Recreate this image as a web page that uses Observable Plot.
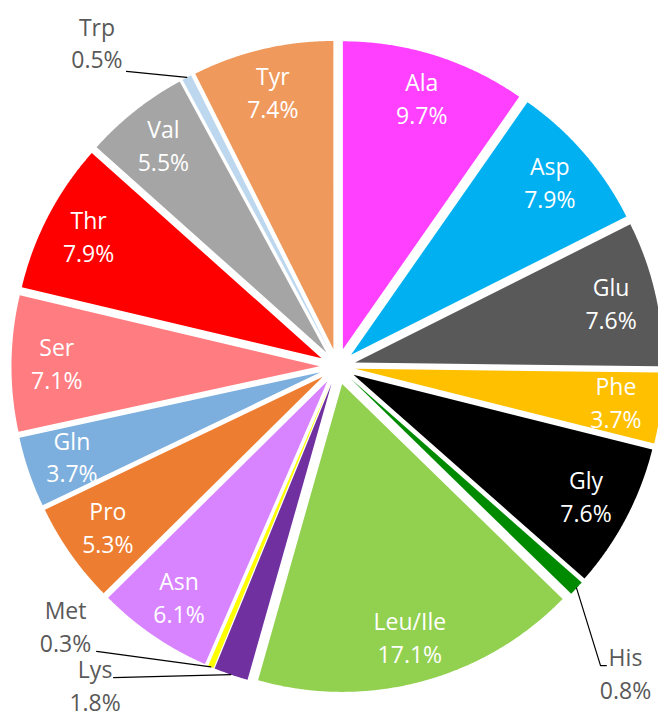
<!DOCTYPE html>
<html><head><meta charset="utf-8">
<script src="https://cdn.jsdelivr.net/npm/d3@7"></script>
<script src="https://cdn.jsdelivr.net/npm/@observablehq/plot@0.6"></script>
<style>html,body{margin:0;padding:0;background:#fff;} #chart{width:658px;height:716px;overflow:hidden}</style>
</head><body><div id="chart"></div>
<script>
// ---- data (clockwise from 12 o'clock) ----
const names  = ["Ala","Asp","Glu","Phe","Gly","His","Leu/Ile","Lys","Met","Asn","Pro","Gln","Ser","Thr","Val","Trp","Tyr"];
const values = [9.7, 7.9, 7.6, 3.7, 7.6, 0.8, 17.1, 1.8, 0.3, 6.1, 5.3, 3.7, 7.1, 7.9, 5.5, 0.5, 7.4];
const colors = ["#FF40FF","#00B0F0","#595959","#FFC000","#000000","#008A00","#92D050","#7030A0","#FFFF00",
                "#D883FF","#ED7D31","#7CAFDD","#FF7C80","#FF0000","#A5A5A5","#BDD7EE","#F0995C"];
const outsideNames = ["Trp","Met","Lys","His"];

// ---- layout ----
const W = 658, H = 716, CX = 337, CY = 366, R = 308;
const EXPLODE = 18 / R;      // radial offset of each slice (in radius units)
const LABEL_R = 0.853;       // inside label radius
const FONT = "'Open Sans', 'Noto Sans', sans-serif";
// callout label blocks and leader elbows (radius units, y down)
const calloutLayout = {
  Trp: {label: [-0.781, -1.049], leader: [[-0.685, -0.958]]},
  Met: {label: [-0.883,  0.846], leader: [[-0.782,  0.925]]},
  Lys: {label: [-0.787,  1.037], leader: [[-0.727,  1.010]]},
  His: {label: [ 0.935,  0.998], leader: [[ 0.873,  0.971], [0.854, 0.971]]}
};

const total = d3.sum(values);
let cum = 0;
const slices = names.map((name, i) => {
  const a0 = cum / total * 2 * Math.PI; cum += values[i];
  const a1 = cum / total * 2 * Math.PI;
  const mid = (a0 + a1) / 2;
  return {name, value: values[i], a0, a1, mid,
          dx: EXPLODE * Math.sin(mid), dy: -EXPLODE * Math.cos(mid)};
});
const polar = (a, r) => [r * Math.sin(a), -r * Math.cos(a)];

const shapes = slices.flatMap(s => {
  const n = Math.max(2, Math.ceil((s.a1 - s.a0) / (Math.PI / 720)));
  const pts = [{name: s.name, x: s.dx, y: s.dy}];
  for (let k = 0; k <= n; k++) {
    const [x, y] = polar(s.a0 + (s.a1 - s.a0) * k / n, 1);
    pts.push({name: s.name, x: x + s.dx, y: y + s.dy});
  }
  return pts;
});

const insideLabels = slices.filter(s => !outsideNames.includes(s.name)).map(s => {
  const [x, y] = polar(s.mid, LABEL_R);
  return {x: x + s.dx, y: y + s.dy, text: `${s.name}\n${s.value.toFixed(1)}%`};
});
const outsideLabels = slices.filter(s => outsideNames.includes(s.name)).map(s => {
  const [x, y] = calloutLayout[s.name].label;
  return {x, y, text: `${s.name}\n${s.value.toFixed(1)}%`};
});
const leaders = slices.filter(s => outsideNames.includes(s.name)).flatMap(s => {
  const [x, y] = polar(s.mid, 1);
  const pts = [{name: s.name, x: x + s.dx, y: y + s.dy}];
  [...calloutLayout[s.name].leader].reverse().forEach(([lx, ly]) => pts.push({name: s.name, x: lx, y: ly}));
  return pts;
});

const chart = Plot.plot({
  width: W, height: H,
  marginTop: 0, marginRight: 0, marginBottom: 0, marginLeft: 0,
  x: {domain: [-CX / R, (W - CX) / R], range: [0, W], axis: null},
  y: {domain: [-CY / R, (H - CY) / R], range: [0, H], axis: null},
  color: {domain: names, range: colors},
  style: {background: "#fff", overflow: "hidden"},
  marks: [
    Plot.line(shapes, {x: "x", y: "y", z: "name", fill: "name", stroke: "none", curve: "linear-closed"}),
    Plot.line(leaders, {x: "x", y: "y", z: "name", stroke: "#000", strokeWidth: 1.2}),
    Plot.text(insideLabels, {x: "x", y: "y", text: "text", fill: "#fff", fontSize: 23,
      lineHeight: 1.43, fontFamily: FONT, textAnchor: "middle", dy: -2}),
    Plot.text(outsideLabels, {x: "x", y: "y", text: "text", fill: "#595959", fontSize: 23,
      lineHeight: 1.43, fontFamily: FONT, textAnchor: "middle", dy: -2})
  ]
});
document.getElementById("chart").appendChild(chart);
</script>
</body></html>
